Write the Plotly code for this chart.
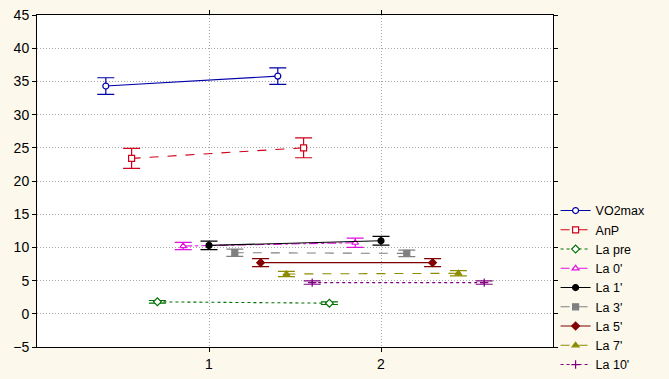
import plotly.graph_objects as go

categories = [1, 2]
series_names = ["VO2max", "AnP", "La pre", "La 0'", "La 1'", "La 3'", "La 5'", "La 7'", "La 10'"]
means = [
    [34.3, 35.8],
    [23.4, 25.0],
    [1.8, 1.6],
    [10.2, 10.7],
    [10.3, 11.0],
    [9.2, 9.1],
    [7.7, 7.7],
    [6.0, 6.1],
    [4.7, 4.7],
]
errors = [
    [1.25, 1.25],
    [1.5, 1.5],
    [0.2, 0.2],
    [0.55, 0.7],
    [0.65, 0.65],
    [0.55, 0.5],
    [0.6, 0.6],
    [0.4, 0.4],
    [0.25, 0.25],
]
y_ticks = [-5, 0, 5, 10, 15, 20, 25, 30, 35, 40, 45]

colors = ["#0000A8", "#D00018", "#007000", "#E010E0", "#000000", "#808080", "#800000", "#8C8C00", "#800080"]
dashes = ["solid", "dash", "dot", "dashdot", "solid", "dash", "solid", "dash", "dot"]
symbols = ["circle", "square", "diamond", "triangle-up", "circle",
           "square", "diamond", "triangle-up", "cross-thin-open"]
hollow = [True, True, True, True, False, False, False, False, False]

fig = go.Figure()
n = len(series_names)
step = 0.15
for i, name in enumerate(series_names):
    off = (i - (n - 1) / 2) * step
    xs = [c + off for c in categories]
    fig.add_trace(go.Scatter(
        x=xs, y=means[i], name=name, mode="lines+markers",
        line=dict(color=colors[i], width=1.1, dash=dashes[i]),
        marker=dict(symbol=symbols[i], size=6,
                    color="#FFFFFF" if hollow[i] else colors[i],
                    line=dict(color=colors[i], width=1.2)),
        error_y=dict(type="data", array=errors[i], visible=True,
                     color=colors[i], thickness=1.2, width=8.5),
    ))

fig.update_layout(
    width=669, height=379,
    margin=dict(l=37, r=116, t=15, b=32, autoexpand=False),
    paper_bgcolor="#FDF8EC",
    plot_bgcolor="#FFFFFF",
    font=dict(family="Liberation Sans, Arial, sans-serif", size=14, color="#000000"),
    showlegend=True,
    legend=dict(x=1.005, xanchor="left", y=0.455, yanchor="top",
                font=dict(size=12.5), bgcolor="rgba(0,0,0,0)",
                tracegroupgap=0, itemwidth=30),
    xaxis=dict(range=[0, 3], tickvals=categories, ticktext=[str(c) for c in categories],
               showgrid=True, gridcolor="#A8A8A8", griddash="1px,2px", gridwidth=1,
               zeroline=False, showline=True, linecolor="#000000", linewidth=1,
               mirror="ticks", ticks="outside", ticklen=4, tickcolor="#000000",
               automargin=False),
    yaxis=dict(range=[-5, 45], tickvals=y_ticks,
               showgrid=True, gridcolor="#A8A8A8", griddash="1px,2px", gridwidth=1,
               zeroline=False, showline=True, linecolor="#000000", linewidth=1,
               mirror="ticks", ticks="outside", ticklen=4, tickcolor="#000000",
               automargin=False),
)

fig.write_html("out.html", config={"displayModeBar": False},
               post_script="document.body.style.margin='0';")
